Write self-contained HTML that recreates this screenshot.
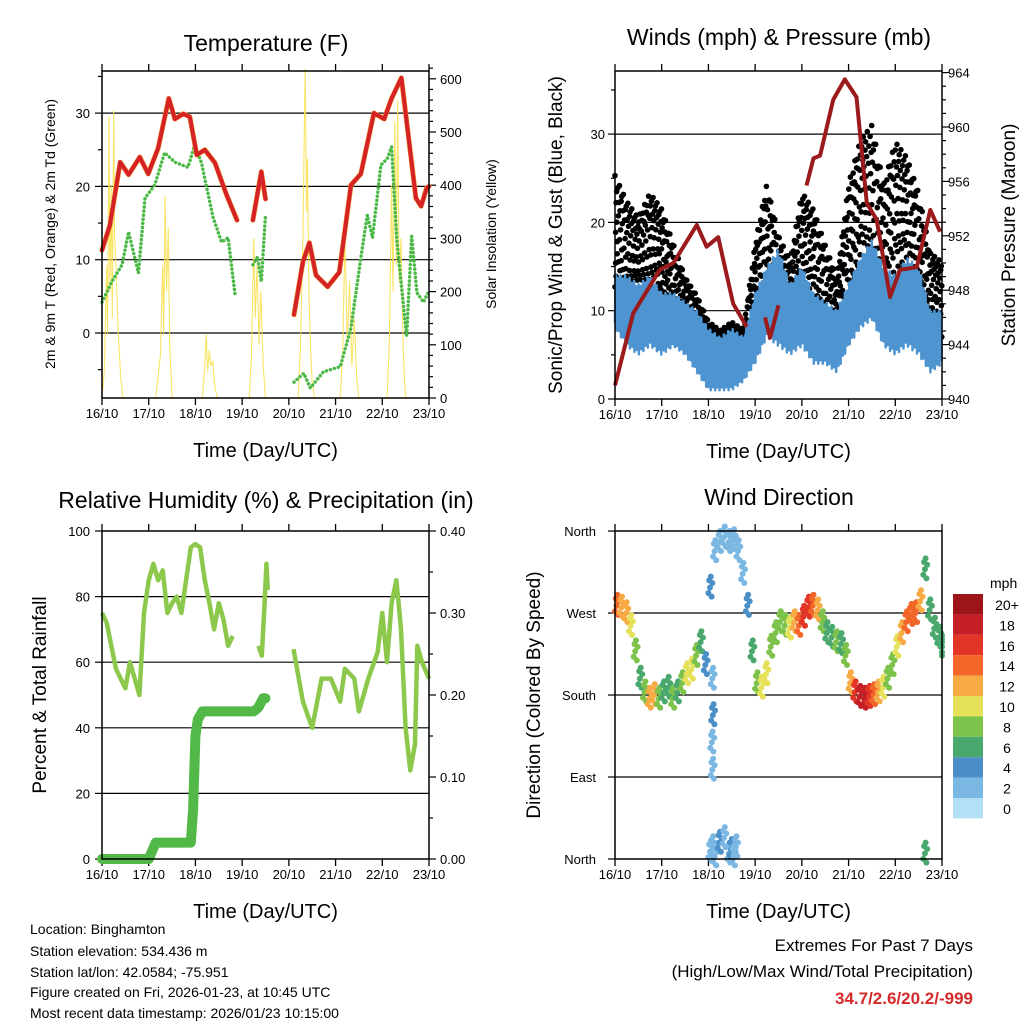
<!DOCTYPE html>
<html><head><meta charset="utf-8"><style>
html,body{margin:0;padding:0;background:#fff;}
svg text{font-family:"Liberation Sans",Arial,sans-serif;fill:#000;}
</style></head><body>
<svg id="chart" width="1024" height="1024" viewBox="0 0 1024 1024" xmlns="http://www.w3.org/2000/svg">
<g id="g1"></g>
<g id="g2"></g>
<g id="g3"></g>
<g id="g4"></g>
<g font-size="14">
<text x="30" y="934">Location: Binghamton</text>
<text x="30" y="956">Station elevation: 534.436 m</text>
<text x="30" y="977">Station lat/lon: 42.0584; -75.951</text>
<text x="30" y="997">Figure created on Fri, 2026-01-23, at 10:45 UTC</text>
<text x="30" y="1018">Most recent data timestamp: 2026/01/23 10:15:00</text>
<text x="973" y="951" text-anchor="end" font-size="17">Extremes For Past 7 Days</text>
<text x="973" y="977" text-anchor="end" font-size="17">(High/Low/Max Wind/Total Precipitation)</text>
<text x="973" y="1004" text-anchor="end" font-size="17" font-weight="bold" style="fill:#d42a2a">34.7/2.6/20.2/-999</text>
</g>
</svg>
<script>
const dayLabels=["16/10","17/10","18/10","19/10","20/10","21/10","22/10","23/10"];
// Temperature (null = gap)
const tempT=[0,0.17,0.39,0.57,0.81,0.99,1.2,1.43,1.56,1.74,1.88,2.03,2.2,2.42,2.67,2.89,null,3.23,3.41,3.5,null,4.11,4.3,4.44,4.58,4.83,5.08,5.33,5.54,5.82,6.04,6.2,6.41,6.72,6.83,6.95,7];
const tempV=[11.3,14.7,23.3,21.6,24,21.7,25.2,32,29.2,29.9,29.5,24.3,25,23.2,18.8,15.4,null,15.4,22,18.3,null,2.5,9.7,12.3,7.9,6.3,8.3,20.2,21.7,30,29.2,32,34.8,18.4,17.3,19.8,20];
const dewT=[0,0.21,0.43,0.57,0.78,0.92,1.13,1.34,1.56,1.84,1.98,2.13,2.38,2.56,2.7,2.85,null,3.23,3.33,3.41,3.5,null,4.11,4.32,4.46,4.74,5.1,5.33,5.54,5.68,5.79,5.97,6.11,6.2,6.31,6.52,6.63,6.74,6.88,6.98];
const dewV=[4.2,7,9.3,13.8,8.2,18.4,20.2,24.6,23.3,22.6,25.6,23.2,15.7,12.4,13,5.2,null,9.3,10.4,7,16.1,null,-6.7,-5.5,-7.5,-5.3,-4.6,0.7,10.2,16.1,13,22.9,23.8,25.4,12.7,-0.5,13.2,5.5,4.2,5.5];
const solarT=[0,0.05,0.1,0.12,0.15,0.17,0.2,0.22,0.25,0.27,0.3,0.35,0.4,0.45,1.15,1.25,1.3,1.32,1.35,1.38,1.42,1.45,1.5,2.15,2.2,2.23,2.26,2.3,2.33,2.37,2.42,2.47,3.15,3.2,3.25,3.28,3.32,3.36,3.4,3.45,3.5,4.2,4.25,4.3,4.33,4.35,4.38,4.4,4.43,4.47,4.5,4.55,5.1,5.15,5.2,5.25,5.3,5.35,5.4,5.45,5.5,6.1,6.15,6.2,6.23,6.27,6.3,6.33,6.36,6.4,6.45,6.5];
const solarV=[0,50,250,120,530,200,400,150,540,300,250,120,40,0,0,80,250,120,380,200,320,100,0,0,60,120,50,90,60,70,20,0,0,80,300,150,250,100,200,60,0,0,100,300,500,620,350,450,200,80,30,0,0,80,300,100,220,60,150,40,0,0,100,400,200,520,250,560,220,300,80,0];
// Winds
const windT=[0,0.25,0.5,0.75,1,1.25,1.5,1.75,2,2.25,2.5,2.75,3,3.25,3.5,3.75,4,4.25,4.5,4.75,5,5.25,5.5,5.75,6,6.25,6.5,6.75,7];
const windLo=[8,6,5,6,5,6,5,3,1,1,1,2,4,7,6,5,6,4,4,3,6,8,9,6,5,6,5,3,4];
const windHi=[14,14,13,14,12,12,11,10,8,7,8,7,12,15,17,13,15,12,11,10,13,16,18,15,14,16,15,10,10];
const gustLo=[12,10,11,10,12,8,9,6,4,3,3,4,9,12,8,8,12,10,6,8,12,14,12,10,12,14,10,7,6];
const gustHi=[26,23,21,24,22,18,14,12,9,8,9,8,18,25,19,16,24,22,18,14,25,30,32,25,30,28,24,17,16];
const presT=[0,0.39,0.96,1.25,1.75,1.96,2.21,2.53,2.82,null,3.21,3.32,3.5,null,4.1,4.25,4.39,4.67,4.92,5.17,5.39,5.6,5.89,6.1,6.46,6.75,6.96];
const presV=[941,946.3,949.5,950,952.8,951.2,951.9,947,945.3,null,946,944.5,946.9,null,955.7,957.7,957.9,962,963.5,962.2,954.4,953.2,947.5,949.5,949.7,953.9,952.3];
// RH & precip
const rhT=[0,0.1,0.2,0.3,0.4,0.5,0.6,0.7,0.8,0.9,1,1.1,1.2,1.3,1.4,1.5,1.6,1.7,1.8,1.9,2,2.1,2.2,2.3,2.4,2.5,2.6,2.7,2.8,null,3.35,3.42,3.48,3.52,3.55,null,4.1,4.3,4.5,4.7,4.9,5.1,5.2,5.4,5.5,5.7,5.9,6,6.1,6.2,6.3,6.35,6.4,6.5,6.6,6.7,6.75,6.85,7];
const rhV=[75,72,65,58,55,52,60,55,50,75,85,90,85,88,75,78,80,75,85,95,96,95,85,78,70,78,73,65,68,null,65,62,78,90,82,null,64,48,40,55,55,48,58,55,45,55,63,75,60,78,85,78,70,40,27,35,65,60,55];
const prT=[0,1.0,1.15,1.9,1.95,2.0,2.05,2.15,3.2,null,3.25,3.35,3.45,3.5];
const prV=[0,0,0.02,0.02,0.06,0.15,0.17,0.18,0.18,null,0.18,0.185,0.196,0.196];
// Wind direction
const wdT=[0,0.1,0.2,0.3,0.4,0.5,0.6,0.7,0.8,0.9,1,1.1,1.2,1.3,1.4,1.5,1.6,1.7,1.8,1.9,2,2.1,2.2,2.3,2.4,2.5,2.6,2.7,2.8,2.9,3,3.1,3.2,3.3,3.4,3.5,3.6,3.7,3.8,3.9,4,4.1,4.2,4.3,4.4,4.5,4.6,4.7,4.8,4.9,5,5.1,5.2,5.3,5.4,5.5,5.6,5.7,5.8,5.9,6,6.1,6.2,6.3,6.4,6.5,6.6,6.7,6.8,6.9,7,2.0,2.05,2.1,2.2,2.3,2.4,2.45,2.5,2.55,2.05,2.06,2.04,2.05,6.6];
const wdDir=[280,278,272,258,230,200,185,178,182,178,185,190,178,185,195,205,210,225,240,215,300,340,350,355,350,352,340,315,280,230,195,190,205,235,250,262,258,255,262,258,268,278,280,275,262,250,245,240,238,225,195,185,180,178,180,182,185,190,200,215,235,250,262,270,272,285,320,275,255,245,235,10,15,5,20,25,8,12,5,15,200,160,130,100,8];
const wdSpd=[14,13,12,11,8,7,9,12,13,8,7,6,8,7,9,10,11,9,7,5,4,3,3,3,2,3,3,2,4,7,9,11,10,9,9,8,9,10,12,14,16,17,15,12,8,7,7,8,7,8,12,16,18,19,17,14,12,10,9,8,10,13,14,15,14,12,7,6,6,7,6,3,2,3,4,2,3,4,2,3,3,4,3,2,6];
const cbLabels=["20+","18","16","14","12","10","8","6","4","2","0"];
const cbColors=["#9b1519","#c41e26","#e23527","#f26729","#f8aa45","#e6e15a","#7dc24a","#4aa86e","#4a8fc7","#7ab8e3","#b3e0f7"];

const NS="http://www.w3.org/2000/svg";
function mk(parent,tag,attrs,txt){const e=document.createElementNS(NS,tag);for(const k in attrs)e.setAttribute(k,attrs[k]);if(txt!==undefined)e.textContent=txt;parent.appendChild(e);return e;}
function pathFrom(T,V,fx,fy){let d="",pen=false;for(let i=0;i<T.length;i++){if(T[i]===null||V[i]===null){pen=false;continue;}d+=(pen?"L":"M")+fx(T[i]).toFixed(1)+","+fy(V[i]).toFixed(1);pen=true;}return d;}
function interp(T,A,t){for(let i=0;i<T.length-1;i++){if(t>=T[i]&&t<=T[i+1]){const f=(t-T[i])/(T[i+1]-T[i]);return A[i]+f*(A[i+1]-A[i]);}}return A[A.length-1];}

function frame(g,L,R,Tp,B){
  const fx=d=>L+d*(R-L)/7;
  for(let i=0;i<8;i++){
    const t=mk(g,"line",{x1:fx(i),x2:fx(i),y1:B,y2:B+7,stroke:"#000","stroke-width":1.3});
    
    
    const t2=mk(g,"line",{x1:fx(i),x2:fx(i),y1:Tp,y2:Tp-7,stroke:"#000","stroke-width":1.3});
    
    
    const lb=mk(g,"text",{x:fx(i),y:B+20,"text-anchor":"middle","font-size":13},dayLabels[i]);
    
    
  }
  const xt=mk(g,"text",{x:(L+R)/2,y:B+59,"text-anchor":"middle","font-size":20},"Time (Day/UTC)");
  
  
  return fx;
}
function box(g,L,R,Tp,B){const r=mk(g,"rect",{x:L,y:Tp,width:R-L,height:B-Tp,fill:"none",stroke:"#000","stroke-width":1.5});}
function hgrid(g,L,R,y){const l=mk(g,"line",{x1:L,x2:R,y1:y,y2:y,stroke:"#000","stroke-width":1.2});}
function ytick(g,x,y,len,label,anchor,lx,name){mk(g,"line",{x1:x,x2:x+len,y1:y,y2:y,stroke:"#000","stroke-width":1.2});if(label!==null){const t=mk(g,"text",{x:lx,y:y+5,"text-anchor":anchor,"font-size":13},label);}}
function vtitle(g,x,y,txt,size,name){const t=mk(g,"text",{x:x,y:y,"text-anchor":"middle","font-size":size,transform:`rotate(-90 ${x} ${y})`},txt);}
function title(g,x,y,txt,name){const t=mk(g,"text",{x:x,y:y,"text-anchor":"middle","font-size":23},txt);}

// ---------- Panel 1 ----------
(function(){
  const g=document.getElementById("g1");const L=102,R=429,Tp=71,B=398;
  const fx=frame(g,L,R,Tp,B);
  const fy=t=>333-t*7.33, fs=s=>B-s*0.532;
  [0,10,20,30].forEach(v=>hgrid(g,L,R,fy(v)));
  [-5,0,5,10,15,20,25,30,35].forEach(v=>ytick(g,L,fy(v),v%10===0?-7:-4,v%10===0?String(v):null,"end",L-12,"y-tick-label-left"));
  for(let s=0;s<=620;s+=20) ytick(g,R,fs(s),s%100===0?7:4,s%100===0?String(s):null,"start",R+11,"y-tick-label-right");
  const sp=mk(g,"path",{d:pathFrom(solarT,solarV,fx,fs),fill:"none",stroke:"#f9df4a","stroke-width":1.1,opacity:0.85});
  
  const dp=mk(g,"path",{d:pathFrom(dewT,dewV,fx,fy),fill:"none",stroke:"#4cb848","stroke-width":3.5,"stroke-dasharray":"0.1 4","stroke-linecap":"round"});
  
  const op=mk(g,"path",{d:pathFrom(tempT,tempV,fx,fy),fill:"none",stroke:"#f0932b","stroke-width":5,"stroke-linejoin":"round","stroke-linecap":"round"});
  
  const rp=mk(g,"path",{d:pathFrom(tempT,tempV,fx,fy),fill:"none",stroke:"#d42226","stroke-width":4,"stroke-linejoin":"round","stroke-linecap":"round"});
  
  box(g,L,R,Tp,B);
  title(g,266,51,"Temperature (F)","temperature-title");
  vtitle(g,55,234,"2m & 9m T (Red, Orange) & 2m Td (Green)",14,"y-axis-title-left");
  vtitle(g,496,234,"Solar Insolation (Yellow)",14,"y-axis-title-right");
})();

// ---------- Panel 2 ----------
(function(){
  const g=document.getElementById("g2");const L=615,R=942,Tp=71,B=399;
  const fx=frame(g,L,R,Tp,B);
  const fy=w=>B-w*8.83, fp=p=>B-(p-940)*13.6;
  [10,20,30].forEach(v=>hgrid(g,L,R,fy(v)));
  [0,5,10,15,20,25,30,35].forEach(v=>ytick(g,L,fy(v),v%10===0?-7:-4,v%10===0?String(v):null,"end",L-10,"y-tick-label-left"));
  for(let p=940;p<=964;p++) ytick(g,R,fp(p),p%4===0?7:4,p%4===0?String(p):null,"start",R+6,"y-tick-label-right");
  // black gust dots
  const pat=[0.05,0.95,0.5,0.25,0.75,0.15,0.6,0.85,0.35,0.45,0.9,0.1,0.68,0.3,0.8];
  const dg=mk(g,"g",{fill:"#000"});
  
  let k=0;
  for(let t=0;t<=7;t+=0.012){
    const lo=interp(windT,gustLo,t), hi=interp(windT,gustHi,t);
    for(let j=0;j<2;j++){const q=pat[(k++)%pat.length];const c=mk(dg,"circle",{cx:fx(t).toFixed(1),cy:fy(lo+q*(hi-lo)).toFixed(1),r:2.8});
      
      }
  }
  // blue jagged wind line
  const zq=[0.1,0.9,0.3,1,0,0.7,0.2,0.85,0.4,0.95,0.05,0.6];
  let d="";k=0;
  for(let t=0;t<=7;t+=0.008){const lo=interp(windT,windLo,t),hi=interp(windT,windHi,t);d+=(d?"L":"M")+fx(t).toFixed(1)+","+fy(lo+zq[(k++)%zq.length]*(hi-lo)).toFixed(1);}
  const bp=mk(g,"path",{d:d,fill:"none",stroke:"#4d94d0","stroke-width":2.5,"stroke-linejoin":"round"});
  
  const pp=mk(g,"path",{d:pathFrom(presT,presV,fx,fp),fill:"none",stroke:"#9b1a1c","stroke-width":4,"stroke-linejoin":"round"});
  
  box(g,L,R,Tp,B);
  title(g,779,45,"Winds (mph) & Pressure (mb)","winds-title");
  vtitle(g,562,235,"Sonic/Prop Wind & Gust (Blue, Black)",19,"y-axis-title-left");
  vtitle(g,1015,235,"Station Pressure (Maroon)",19,"y-axis-title-right");
})();

// ---------- Panel 3 ----------
(function(){
  const g=document.getElementById("g3");const L=102,R=429,Tp=531,B=859;
  const fx=frame(g,L,R,Tp,B);
  const fy=v=>B-v*3.28, fp=p=>B-p*820;
  [20,40,60,80].forEach(v=>hgrid(g,L,R,fy(v)));
  [0,20,40,60,80,100].forEach(v=>ytick(g,L,fy(v),-7,String(v),"end",L-12,"y-tick-label-left"));
  [0,0.05,0.1,0.15,0.2,0.25,0.3,0.35,0.4].forEach((v,i)=>ytick(g,R,fp(v),i%2===0?7:4,i%2===0?v.toFixed(2):null,"start",R+11,"y-tick-label-right"));
  const rp=mk(g,"path",{d:pathFrom(rhT,rhV,fx,fy),fill:"none",stroke:"#8cc84b","stroke-width":4.5,"stroke-linejoin":"round"});
  
  const pp=mk(g,"path",{d:pathFrom(prT,prV,fx,fp),fill:"none",stroke:"#52b847","stroke-width":10,"stroke-linecap":"round","stroke-linejoin":"round"});
  
  box(g,L,R,Tp,B);
  title(g,266,508,"Relative Humidity (%) & Precipitation (in)","humidity-title");
  vtitle(g,46,695,"Percent & Total Rainfall",19,"y-axis-title-left");
})();

// ---------- Panel 4 ----------
(function(){
  const g=document.getElementById("g4");const L=615,R=942,Tp=531,B=859;
  const fx=frame(g,L,R,Tp,B);
  const fy=d=>B-d*0.911;
  [90,180,270].forEach(v=>hgrid(g,L,R,fy(v)));
  const dl=["North","East","South","West","North"];
  [0,90,180,270,360].forEach((v,i)=>ytick(g,L,fy(v),-7,dl[i],"end",L-19,"y-tick-label-left"));
  const offs=[[0,-8],[0.017,6],[0.033,-2],[0.05,10],[0.067,-12],[0.083,3]];
  const dg=mk(g,"g",{});
  
  for(let i=0;i<wdT.length;i++){
    const ci=Math.max(0,Math.min(10,10-Math.floor(wdSpd[i]/2)));
    offs.forEach(o=>{const c=mk(dg,"circle",{cx:fx(Math.min(7,wdT[i]+o[0])).toFixed(1),cy:fy(wdDir[i]+o[1]).toFixed(1),r:3,fill:cbColors[ci]});
      
      });
  }
  box(g,L,R,Tp,B);
  title(g,779,505,"Wind Direction","wind-direction-title");
  vtitle(g,540,695,"Direction (Colored By Speed)",19,"y-axis-title-left");
  const cb=mk(g,"g",{});
  
  const ct=mk(cb,"text",{x:990,y:588,"font-size":14},"mph");
  
  for(let i=0;i<cbColors.length;i++){
    const r=mk(cb,"rect",{x:953,y:594+i*20.4,width:30,height:20.4,fill:cbColors[i]});
    
    const t=mk(cb,"text",{x:1007,y:594+i*20.4+16,"text-anchor":"middle","font-size":14},cbLabels[i]);
    
  }
})();
</script>
</body></html>
